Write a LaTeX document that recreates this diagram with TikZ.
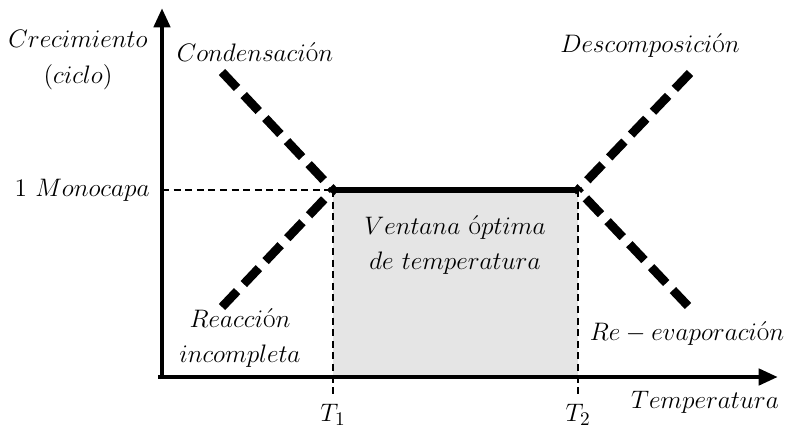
\documentclass[tikz,border=0pt]{standalone}
\usepackage{amsmath}
\usetikzlibrary{arrows.meta}
\tikzset{
  axis/.style={line width=2.8pt,-{Triangle[length=11pt,width=9pt]}},
  guide/.style={line width=0.8pt,dash pattern=on 4pt off 2.6pt},
  branch/.style={line width=5pt,dash pattern=on 12.5pt off 5.5pt},
  lbl/.style={font=\fontsize{15.5}{19}\selectfont,align=center,inner sep=0pt}
}
\begin{document}
\begin{tikzpicture}[x=0.02cm,y=-0.02cm]
    \useasboundingbox (0,0) rectangle (793,433);
    \coordinate (Origin)   at (162,377);
    \coordinate (XAxisMin) at (158,377);
    \coordinate (XAxisMax) at (778,377);
    \coordinate (YAxisMin) at (162,379);
    \coordinate (YAxisMax) at (162,8);
    \coordinate (Left)  at (333,190);% T1 corner
    \coordinate (Right) at (578,190);% T2 corner
    \coordinate (MonoY) at (162,190);
    \coordinate (CondEnd)  at (222,72);
    \coordinate (ReacEnd)  at (222,307);
    \coordinate (DescEnd)  at (690,73);
    \coordinate (EvapEnd)  at (688,306);

    \fill [gray!20] (Left) rectangle (Right |- Origin);% window

    \node [lbl] (ylabel) at (78,60) {$Crecimiento$\\[1pt]$(ciclo)$};
    \node [lbl,anchor=east] (mono) at (150,190) {$1\ Monocapa$};
    \node [lbl] (cond) at (255,52) {$Condensaci\text{ó}n$};
    \node [lbl] (desc) at (650,45) {$Descomposici\text{ó}n$};
    \node [lbl] (reac) at (240,338) {$Reacci\text{ó}n$\\[1pt]$incompleta$};
    \node [lbl] (win) at (455,245) {$Ventana\ \text{ó}ptima$\\[1pt]$de\ temperatura$};
    \node [lbl] (evap) at (687,333) {$Re-evaporaci\text{ó}n$};
    \node [lbl] (xlabel) at (705,402) {$Temperatura$};
    \node [lbl] (t1) at (333,415) {$T_1$};
    \node [lbl] (t2) at (578,415) {$T_2$};

    \draw [guide] (MonoY) -- (Left);% monolayer level
    \draw [guide] (Left) -- ([yshift=4pt]t1.north);% T1
    \draw [guide] (Right) -- ([yshift=4pt]t2.north);% T2
    \draw [line width=3.2pt] (Left) -- (Right);% plateau

    \draw [branch] (CondEnd) -- (Left);
    \draw [branch] (ReacEnd) -- (Left);
    \draw [branch] (DescEnd) -- (Right);
    \draw [branch] (EvapEnd) -- (Right);

    \draw [axis] (XAxisMin) -- (XAxisMax);% Draw x axis
    \draw [axis] (YAxisMin) -- (YAxisMax);% Draw y axis
  \end{tikzpicture}
\end{document}
